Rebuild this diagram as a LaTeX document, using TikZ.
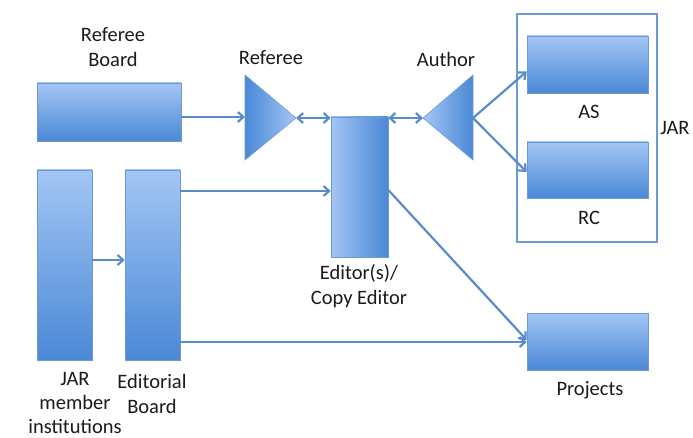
\documentclass[tikz,border=0pt]{standalone}
\usepackage{fontspec}
\setmainfont{Carlito}
\usetikzlibrary{arrows.meta}
\definecolor{lightb}{HTML}{A3C6F5}
\definecolor{darkb}{HTML}{4A88D6}
\definecolor{edgeb}{HTML}{6E9AD2}
\definecolor{lineb}{HTML}{5A8CCB}
\definecolor{txt}{HTML}{1A1A1A}
\tikzset{
  vbox/.style={draw=edgeb, line width=0.6pt, top color=lightb, bottom color=darkb, inner sep=0pt, minimum width=#1},
  hbox/.style={draw=edgeb, line width=0.6pt, left color=lightb, right color=darkb, inner sep=0pt},
  conn/.style={draw=lineb, line width=2.2pt, -{Straight Barb[length=5.5pt,width=10pt]}},
  dconn/.style={draw=lineb, line width=2.2pt, {Straight Barb[length=5.5pt,width=10pt]}-{Straight Barb[length=5.5pt,width=10pt]}},
  lab/.style={font=\fontsize{20.5}{24.5}\selectfont, text=txt, align=center, inner sep=0pt},
}
\begin{document}
\begin{tikzpicture}[x=1pt,y=-1pt]
\useasboundingbox (0,0) rectangle (693,438);
% boxes
\node[vbox=144pt, minimum height=58pt] (rb) at (109,112) {};
\node[vbox=55pt, minimum height=190pt] (jm) at (64.5,265) {};
\node[vbox=55pt, minimum height=190pt] (eb) at (152.5,265) {};
\node[hbox, minimum width=57pt, minimum height=140pt] (ed) at (359.5,187) {};
\node[draw=edgeb, line width=1.2pt, minimum width=140pt, minimum height=228pt, inner sep=0pt] (jar) at (587,128) {};
\node[vbox=121pt, minimum height=57pt] (as) at (587.5,64.5) {};
\node[vbox=121pt, minimum height=56pt] (rc) at (587.5,170) {};
\node[vbox=121pt, minimum height=57pt] (pr) at (587.5,341.5) {};
% triangles
\coordinate (rtip) at (296,118);
\coordinate (atip) at (423,118);
\coordinate (aback) at (473,118);
\shade[left color=darkb, right color=lightb, draw=edgeb, line width=0.6pt] (245,75) -- (rtip) -- (245,160) -- cycle;
\shade[left color=lightb, right color=darkb, draw=edgeb, line width=0.6pt] (473,75) -- (atip) -- (473,160) -- cycle;
\coordinate (rin) at (245,117);
% labels
\node[lab] (lrb) at (113,47) {Referee\\Board};
\node[lab] (lref) at (271,58) {Referee};
\node[lab] (laut) at (446,59) {Author};
\node[lab] (led) at (359,286) {Editor(s)/\\Copy Editor};
\node[lab] (las) at (589,112) {AS};
\node[lab] (lrc) at (589,218) {RC};
\node[lab] (ljar) at (675,128) {JAR};
\node[lab] (lpr) at (590,390) {Projects};
\node[lab, font=\fontsize{20.5}{24}\selectfont] (ljm) at (75,403) {JAR\\member\\institutions};
\node[lab] (leb) at (152,394) {Editorial\\Board};
% connectors
\draw[conn] (rb.east |- rin) -- (rin);
\draw[dconn] (rtip) -- (ed.west |- rtip);
\draw[dconn] (ed.east |- atip) -- (atip);
\draw[conn] (aback) -- ([yshift=-7pt]as.west);
\draw[conn] (aback) -- ([yshift=-2pt]rc.west);
\draw[conn] ([yshift=5pt]jm.east) -- ([yshift=5pt]eb.west);
\draw[conn] (eb.east |- 0,191) -- (ed.west |- 0,191);
\draw[conn] (eb.east |- 0,342) -- (pr.west |- 0,342);
\draw[conn] (ed.east |- 0,190) -- (pr.west |- 0,340);
\end{tikzpicture}
\end{document}
